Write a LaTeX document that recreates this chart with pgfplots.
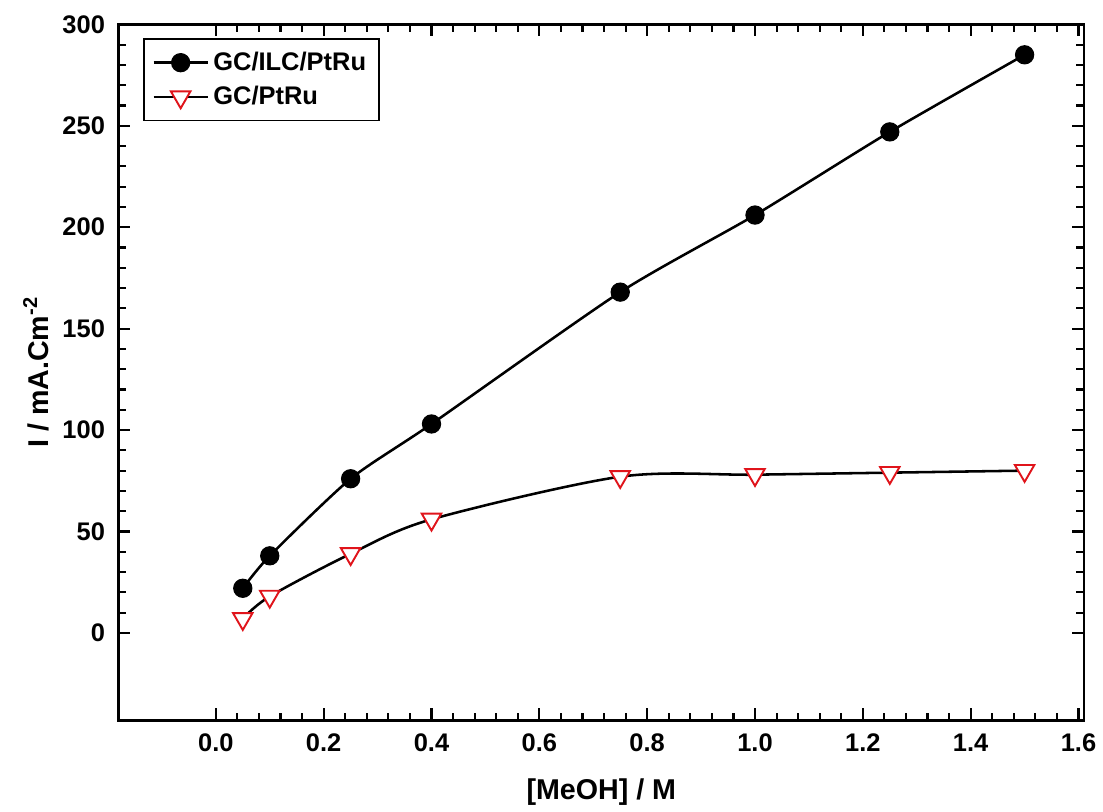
\documentclass[border=0pt]{standalone}
\usepackage{fontspec}
\setmainfont{Liberation Sans}
\usepackage{pgfplots}
\pgfplotsset{compat=1.18}
\definecolor{triRed}{HTML}{E0141B}

\begin{document}
\begin{tikzpicture}
\begin{axis}[
    scale only axis,
    width=455pt, height=328pt,
    xmin=-0.18, xmax=1.61,
    ymin=-43, ymax=300,
    xtick={0,0.2,...,1.6},
    ytick={0,50,...,300},
    minor x tick num=4,
    minor y tick num=4,
    tick align=inside,
    major tick length=5.5pt,
    minor tick length=3.5pt,
    every tick/.style={black, line width=1pt},
    axis line style={line width=1.3pt},
    /pgf/number format/assume math mode=true,
    xticklabel={\pgfmathprintnumber[fixed,fixed zerofill,precision=1]{\tick}},
    ticklabel style={font=\bfseries\fontsize{12}{14}\selectfont},
    xticklabel style={yshift=-3pt},
    yticklabel style={xshift=-3pt},
    xlabel={\bfseries [MeOH] / M},
    ylabel={\bfseries I / mA.Cm\textsuperscript{-2}},
    label style={font=\bfseries\fontsize{13.5}{15}\selectfont},
    xlabel style={at={(axis description cs:0.5,0)}, anchor=center, yshift=-34pt},
    ylabel style={at={(axis description cs:0,0.5)}, anchor=center, yshift=39pt},
    legend style={font=\bfseries\fontsize{12}{14}\selectfont, draw=black, line width=0.8pt,
      inner xsep=4pt, inner ysep=4pt, at={(0.025,0.98)}, anchor=north west,
      row sep=2pt},
    legend image code/.code={
      \draw[mark repeat=2, mark phase=2, #1]
        plot coordinates {(0cm,0cm) (0.45cm,0cm) (0.9cm,0cm)};},
    legend cell align=left,
]
  \addplot[black, line width=1.2pt, smooth, tension=0.4,
    mark=*, mark size=4.3pt, mark options={fill=black, line width=0.5pt}]
    coordinates {
      (0.05,22) (0.1,38) (0.25,76) (0.4,103) (0.75,168)
      (1.0,206) (1.25,247) (1.5,285)
    };
  \addlegendentry{GC/ILC/PtRu}

  \addplot[black, line width=1.2pt, smooth, tension=0.5,
    mark=triangle*, mark size=5.3pt,
    mark options={rotate=180, fill=white, draw=triRed, line width=0.9pt}]
    coordinates {
      (0.05,7) (0.1,18) (0.25,39) (0.4,56) (0.75,77)
      (1.0,78) (1.25,79) (1.5,80)
    };
  \addlegendentry{GC/PtRu}
\end{axis}
\pgfresetboundingbox
\path ([shift={(-56pt,-43pt)}]current axis.south west)
  rectangle ([shift={(9pt,11.5pt)}]current axis.north east);
\end{tikzpicture}
\end{document}
